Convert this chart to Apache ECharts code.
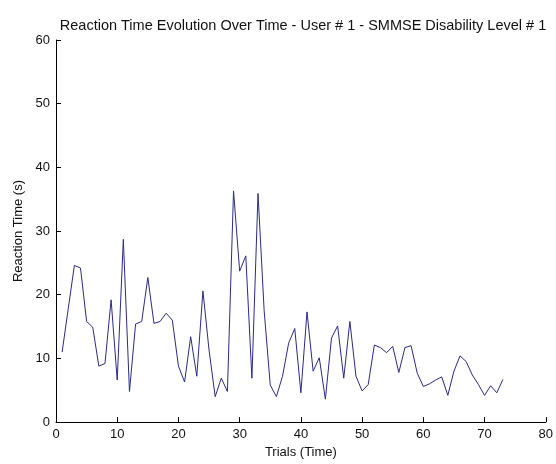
<!DOCTYPE html>
<html>
<head>
<meta charset="utf-8">
<script src="https://cdn.jsdelivr.net/npm/echarts@6/dist/echarts.min.js"></script>
<style>
  html, body { margin: 0; padding: 0; background: #fff; }
  #chart { width: 556px; height: 464px; }
</style>
</head>
<body>
<div id="chart"></div>
<script>
// trial number (x) and reaction time in seconds (y)
const trials = [
  1, 2, 3, 4, 5, 6, 7, 8, 9, 10,
  11, 12, 13, 14, 15, 16, 17, 18, 19, 20,
  21, 22, 23, 24, 25, 26, 27, 28, 29, 30,
  31, 32, 33, 34, 35, 36, 37, 38, 39, 40,
  41, 42, 43, 44, 45, 46, 47, 48, 49, 50,
  51, 52, 53, 54, 55, 56, 57, 58, 59, 60,
  61, 62, 63, 64, 65, 66, 67, 68, 69, 70,
  71, 72, 73
];
const reactionTime = [
  11.0, 17.8, 24.6, 24.2, 15.8, 14.9, 8.8, 9.2, 19.2, 6.6,
  28.7, 4.8, 15.4, 15.8, 22.7, 15.5, 15.8, 17.1, 16.0, 8.8,
  6.3, 13.4, 7.2, 20.6, 11.3, 4.0, 6.9, 4.8, 36.3, 23.7,
  26.1, 6.9, 35.9, 17.5, 5.8, 4.0, 7.2, 12.4, 14.7, 4.6,
  17.3, 8.0, 10.1, 3.6, 13.2, 15.1, 6.9, 15.8, 7.2, 4.9,
  5.9, 12.1, 11.7, 10.9, 11.9, 7.8, 11.7, 12.0, 7.7, 5.6,
  6.0, 6.6, 7.1, 4.2, 8.0, 10.4, 9.5, 7.4, 5.9, 4.2,
  5.7, 4.6, 6.7
];

const font = 'Liberation Sans';
const axisCol = '#000';

let chart = echarts.init(document.getElementById('chart'), null, { renderer: 'canvas' });
chart.setOption({
  animation: false,
  backgroundColor: '#fff',
  title: {
    text: 'Reaction Time Evolution Over Time - User # 1 - SMMSE Disability Level # 1',
    left: 298,
    textAlign: 'center',
    top: 13,
    textStyle: {
      fontFamily: font,
      fontSize: 14.5,
      fontWeight: 'normal',
      color: '#111'
    }
  },
  grid: {
    left: 56,
    right: 9,
    top: 40,
    bottom: 39
  },
  xAxis: {
    type: 'value',
    min: 0,
    max: 80,
    interval: 10,
    name: 'Trials (Time)',
    nameLocation: 'middle',
    nameGap: 23,
    nameTextStyle: { fontFamily: font, fontSize: 13, color: '#111' },
    axisLine: { show: true, onZero: false, lineStyle: { color: axisCol, width: 1 } },
    axisTick: { show: true, inside: true, length: 5, lineStyle: { color: axisCol } },
    axisLabel: { fontFamily: font, fontSize: 13, color: '#111', margin: 6 },
    splitLine: { show: false }
  },
  yAxis: {
    type: 'value',
    min: 0,
    max: 60,
    interval: 10,
    name: 'Reaction Time (s)',
    nameLocation: 'middle',
    nameGap: 30,
    nameTextStyle: { fontFamily: font, fontSize: 13, color: '#111' },
    axisLine: { show: true, lineStyle: { color: axisCol, width: 1 } },
    axisTick: { show: true, inside: true, length: 5, lineStyle: { color: axisCol } },
    axisLabel: { fontFamily: font, fontSize: 13, color: '#111', margin: 6 },
    splitLine: { show: false }
  },
  series: [{
    type: 'line',
    data: trials.map((t, i) => [t, reactionTime[i]]),
    showSymbol: false,
    lineStyle: { color: '#2a2a8c', width: 1 },
    itemStyle: { color: '#2a2a8c' }
  }]
});
</script>
</body>
</html>
